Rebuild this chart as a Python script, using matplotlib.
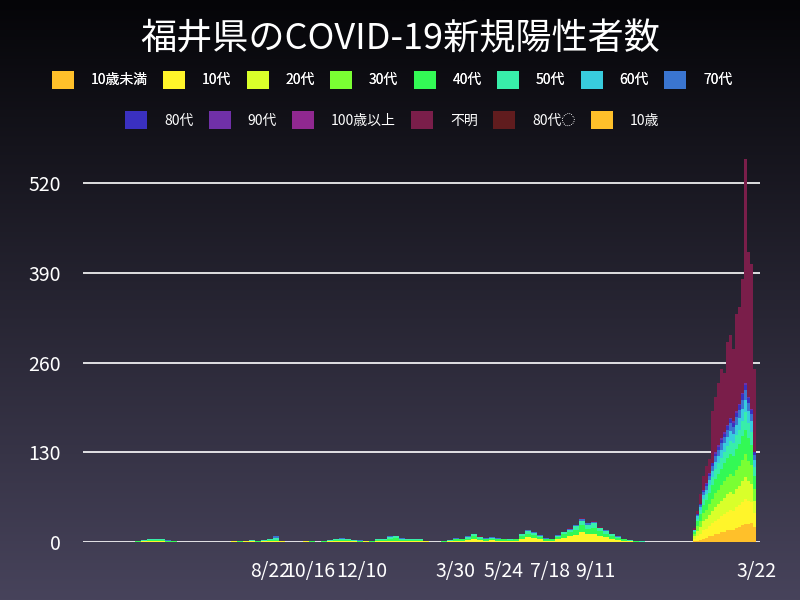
import numpy as np
import matplotlib
matplotlib.use("Agg")
import matplotlib.pyplot as plt
from matplotlib.patches import Patch

plt.rcParams['font.family'] = ['Noto Sans CJK JP', 'DejaVu Sans']

categories = ["10歳未満", "10代", "20代", "30代", "40代", "50代", "60代", "70代",
              "80代", "90代", "100歳以上", "不明", "80代◌", "10歳"]
colors = ["#FFC02A", "#FFF52A", "#D9FF2A", "#7AFF33", "#33F955", "#38EEAA", "#38CCDD", "#3A75D0",
          "#3A30C0", "#7030A8", "#902890", "#7A1E4A", "#601C1E", "#FFC02A"]

tick_pos = [187, 227, 279, 372, 420, 467, 512, 674]
tick_labels = ["8/22", "10/16", "12/10", "3/30", "5/24", "7/18", "9/11", "3/22"]

# early period, 6-unit bins starting at 55
early_y = [0,1,1,1,1,0,0] + [0]*9 + [1,0,1,1,0,1,1,1,1] + [0,0,0] + [1,0,0,0,1,1,1,1,1,0,1] + \
          [0,1,1,2,2,1,1,1,1,1] + [0,0,0] + [1,2,2,3,5,3,2,3,2,2,2] + [2,5,7,6,4,2,2] + \
          [4,6,8,10,14,11,12,9,7,5,3,2,1,0,0]
early_g = [1,1,2,2,2,1,1] + [0]*9 + [0,1,1,1,1,1,2,2,1] + [0,0,0] + [1,1,0,1,1,2,2,2,1,1,1] + \
          [1,2,2,3,4,2,2,2,2,1] + [0,0,1] + [1,2,2,2,4,2,2,2,2,2,1] + [2,4,5,4,3,2,2] + \
          [3,5,6,8,10,8,9,7,5,4,3,2,1,1,0]
early_c = [1,1,2,1,1,1,0] + [0]*9 + [0,0,0,1,1,1,1,3,0] + [0,0,0] + [0,1,0,1,1,1,2,1,1,1,0] + \
          [0,1,2,2,3,2,1,1,1,0] + [0,0,0] + [1,1,1,2,2,2,1,1,1,1,1] + [1,2,4,3,2,1,1] + \
          [2,3,4,5,7,6,6,4,4,2,1,1,1,0,1]
early_b = [0,0,0,0,0,1,0] + [0]*9 + [0,0,0,0,0,0,1,2,0] + [0,0,0] + [0,0,0,0,0,0,1,0,0,1,0] + \
          [0,0,0,1,0,1,1,0,1,0] + [0,0,0] + [0,1,0,1,1,0,1,1,1,0,0] + [0,1,1,1,1,1,0] + \
          [1,1,1,1,2,2,2,1,1,1,1,0,0,0,0]
early_u = [0]*7 + [0]*9 + [0]*9 + [0,0,0] + [0]*11 + [0]*10 + [0,0,0] + \
          [0,0,0,0,0,1,0,0,0,0,0] + [0,0,1,0,0,0,0] + [0,0,1,1,2,1,1,1,1,0,0,0,0,0,0]

# surge period, 3-unit bins starting at 610
s_u10 = [1,2,3,5,6,8,9,11,12,14,15,17,18,18,20,22,24,26,26,28,22]
s_10 = [3,6,9,12,13,15,18,20,22,24,25,27,28,27,30,31,34,36,33,30,20]
s_20 = [4,8,10,13,14,16,18,20,21,22,24,25,26,25,27,28,30,32,29,26,17]
s_30 = [3,7,9,12,14,16,18,20,21,22,24,25,27,26,28,29,31,33,30,27,18]
s_40 = [3,7,9,12,14,16,19,21,23,24,26,27,29,28,30,32,34,36,33,29,19]
s_50 = [2,4,6,8,9,11,12,14,15,16,17,18,19,19,20,21,23,25,22,20,13]
s_60 = [1,3,4,6,6,8,9,10,11,12,12,13,14,14,15,16,17,18,17,15,10]
s_70 = [1,2,3,4,5,6,7,8,8,9,9,10,11,10,11,12,13,14,12,10,7]
s_80 = [0,1,2,2,3,3,4,4,5,5,5,6,6,6,6,7,8,8,7,6,4]
s_90 = [0,0,0,1,1,1,1,2,2,2,3,2,2,2,3,2,2,2,1,2,0]
s_unk = [2,5,15,20,25,20,75,80,90,100,85,120,120,105,140,140,165,325,210,210,120]

W, H = 800, 600
fig = plt.figure(figsize=(8, 6), dpi=100)
bg = fig.add_axes([0, 0, 1, 1], zorder=-10)
grad = np.linspace(0, 1, 256).reshape(-1, 1)
top = np.array([0x05, 0x05, 0x08]) / 255
bot = np.array([0x47, 0x43, 0x5B]) / 255
img = top + (bot - top) * grad[:, :, None]
bg.imshow(img, aspect='auto', extent=[0, 1, 0, 1])
bg.axis('off')

ax = fig.add_axes([83 / W, (H - 542) / H, (760 - 83) / W, (542 - 150) / H])
ax.set_facecolor('none')

ex = 55 + 6 * np.arange(len(early_y))
bottom = np.zeros(len(ex))
for vals, col in [(early_y, colors[1]), (early_g, colors[4]), (early_c, colors[5]),
                  (early_b, colors[7]), (early_u, colors[11])]:
    v = np.array(vals, dtype=float)
    ax.bar(ex, v, width=6, bottom=bottom, color=col, linewidth=0, zorder=3)
    bottom += v

sx = 611.5 + 3 * np.arange(len(s_u10))
bottom = np.zeros(len(sx))
for vals, col in [(s_u10, colors[0]), (s_10, colors[1]), (s_20, colors[2]), (s_30, colors[3]),
                  (s_40, colors[4]), (s_50, colors[5]), (s_60, colors[6]), (s_70, colors[7]),
                  (s_80, colors[8]), (s_90, colors[9]), (s_unk, colors[11])]:
    v = np.array(vals, dtype=float)
    ax.bar(sx, v, width=3, bottom=bottom, color=col, linewidth=0, zorder=3)
    bottom += v

ax.set_xlim(0, 677)
ax.set_ylim(0, 568)
ax.set_yticks([0, 130, 260, 390, 520])
for y in [0, 130, 260, 390, 520]:
    ax.axhline(y, color='white', lw=1.2, zorder=2)
ax.set_xticks(tick_pos)
ax.set_xticklabels(tick_labels)
ax.tick_params(axis='both', length=0, colors='white', labelsize=14)
ax.tick_params(axis='x', pad=14)
ax.tick_params(axis='y', pad=16)
for s in ax.spines.values():
    s.set_visible(False)

fig.text(0.5, 0.935, "福井県のCOVID-19新規陽性者数", color='white', fontsize=26,
         ha='center', va='center')

handles = [Patch(facecolor=c, edgecolor='none') for c in colors]
leg1 = fig.legend(handles[:8], categories[:8], loc='center', bbox_to_anchor=(0.49, 0.867),
                  ncol=8, frameon=False, fontsize=10, labelcolor='white',
                  handlelength=1.6, handleheight=1.6, columnspacing=1.1, handletextpad=1.2)
fig.add_artist(leg1)
fig.legend(handles[8:], categories[8:], loc='center', bbox_to_anchor=(0.49, 0.8),
           ncol=6, frameon=False, fontsize=10, labelcolor='white',
           handlelength=1.6, handleheight=1.6, columnspacing=1.1, handletextpad=1.2)

fig.savefig("out.png", dpi=100)
